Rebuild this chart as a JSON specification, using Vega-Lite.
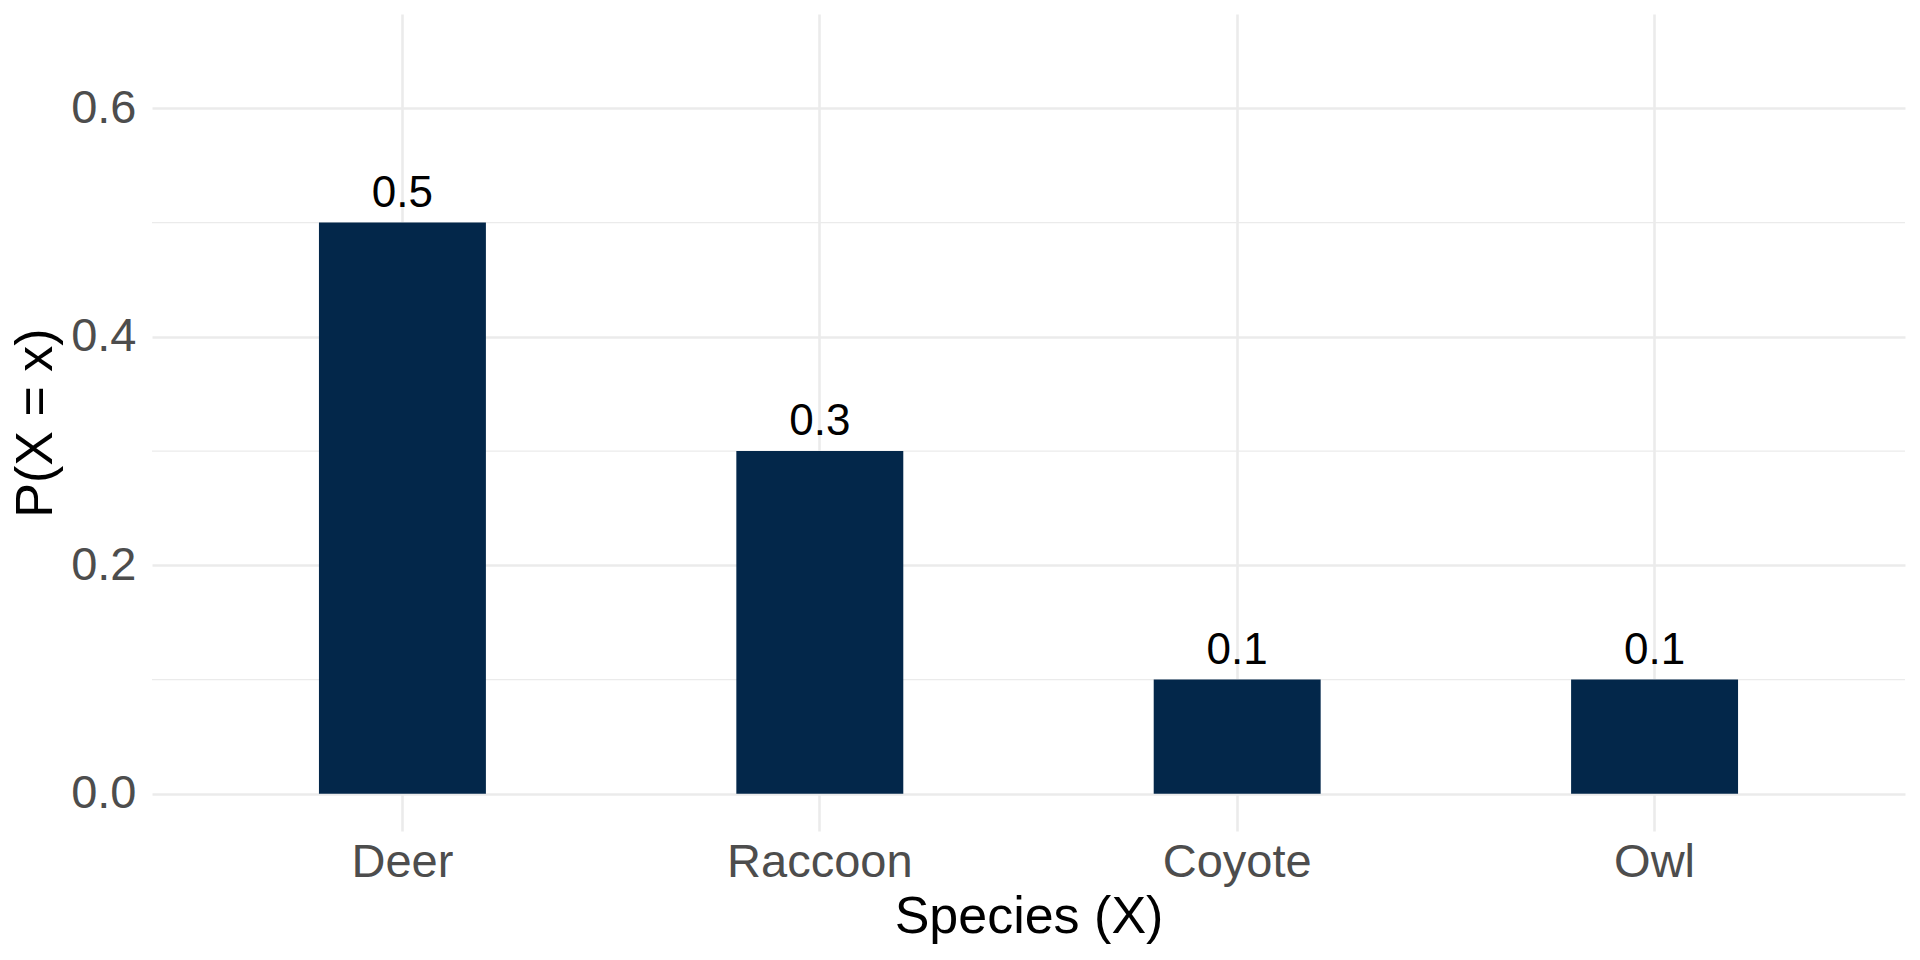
{
  "$schema": "https://vega.github.io/schema/vega-lite/v6.json",
  "autosize": {"type": "none"},
  "padding": {"left": 152, "top": 14, "right": 15, "bottom": 129},
  "width": 1753,
  "height": 817,
  "background": "white",
  "data": {
    "values": [
      {"species": "Deer", "prob": 0.5},
      {"species": "Raccoon", "prob": 0.3},
      {"species": "Coyote", "prob": 0.1},
      {"species": "Owl", "prob": 0.1}
    ]
  },
  "layer": [
    {
      "data": {"values": [{"minor": 0.1}, {"minor": 0.3}, {"minor": 0.5}]},
      "mark": {"type": "rule", "color": "#EBEBEB", "strokeWidth": 1.3},
      "encoding": {
        "y": {"field": "minor", "type": "quantitative"}
      }
    },
    {
      "mark": {"type": "bar", "color": "#03274A"},
      "encoding": {
        "x": {
          "field": "species",
          "type": "nominal",
          "sort": null,
          "scale": {"type": "band", "paddingInner": 0.6, "paddingOuter": 0.4},
          "axis": {
            "title": "Species (X)",
            "labelAngle": 0,
            "labelFontSize": 47,
            "labelColor": "#4D4D4D",
            "labelPadding": 8,
            "labelLimit": 500,
            "ticks": false,
            "tickSize": 0,
            "domain": false,
            "grid": true,
            "gridColor": "#EBEBEB",
            "gridWidth": 2.6,
            "bandPosition": 0.5,
            "titleFontSize": 52,
            "titleFontWeight": "normal",
            "titleColor": "black",
            "titlePadding": 6
          }
        },
        "y": {
          "field": "prob",
          "type": "quantitative",
          "scale": {"domain": [-0.0325, 0.6825], "nice": false, "zero": false},
          "axis": {
            "title": "P(X = x)",
            "values": [0, 0.2, 0.4, 0.6],
            "format": ".1f",
            "labelFontSize": 47,
            "labelColor": "#4D4D4D",
            "labelPadding": 16,
            "ticks": false,
            "tickSize": 0,
            "domain": false,
            "grid": true,
            "gridColor": "#EBEBEB",
            "gridWidth": 2.6,
            "titleFontSize": 52,
            "titleFontWeight": "normal",
            "titleColor": "black",
            "titlePadding": 8
          }
        },
        "y2": {"datum": 0}
      }
    },
    {
      "mark": {"type": "text", "baseline": "alphabetic", "dy": -16, "fontSize": 44, "color": "black"},
      "encoding": {
        "x": {"field": "species", "type": "nominal", "sort": null},
        "y": {"field": "prob", "type": "quantitative"},
        "text": {"field": "prob", "type": "quantitative", "format": ".1f"}
      }
    }
  ],
  "config": {
    "font": "Liberation Sans",
    "view": {"stroke": null}
  }
}
